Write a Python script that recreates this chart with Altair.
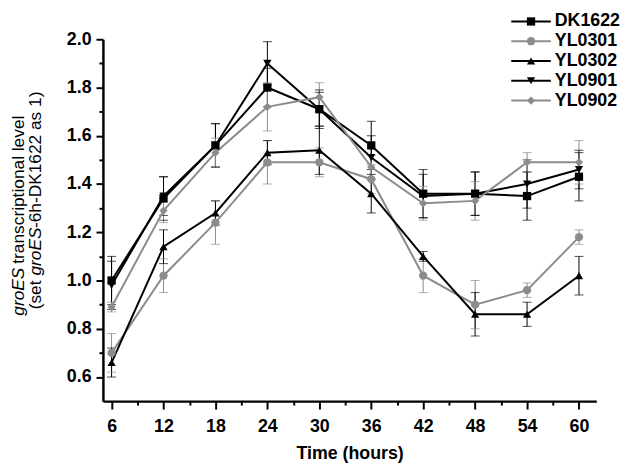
import altair as alt
import pandas as pd

hours = [6, 12, 18, 24, 30, 36, 42, 48, 54, 60]
minor_hours = [9, 15, 21, 27, 33, 39, 45, 51, 57]
y_major = [0.6, 0.8, 1.0, 1.2, 1.4, 1.6, 1.8, 2.0]
y_minor = [0.7, 0.9, 1.1, 1.3, 1.5, 1.7, 1.9]

series = ["DK1622", "YL0301", "YL0302", "YL0901", "YL0902"]
colors = ["#000000", "#8c8c8c", "#000000", "#000000", "#8c8c8c"]
shapes = ["square", "circle", "triangle-up", "triangle-down", "diamond"]

dk1622 = [1.00, 1.34, 1.56, 1.80, 1.71, 1.56, 1.36, 1.36, 1.35, 1.43]
dk1622_err = [0.10, 0.09, 0.09, 0.08, 0.07, 0.10, 0.10, 0.09, 0.10, 0.10]
yl0301 = [0.70, 1.02, 1.24, 1.49, 1.49, 1.42, 1.02, 0.90, 0.96, 1.18]
yl0301_err = [0.08, 0.07, 0.09, 0.09, 0.06, 0.06, 0.07, 0.10, 0.03, 0.03]
yl0302 = [0.66, 1.14, 1.28, 1.53, 1.54, 1.36, 1.10, 0.86, 0.86, 1.02]
yl0302_err = [0.06, 0.07, 0.05, 0.05, 0.10, 0.08, 0.02, 0.09, 0.05, 0.08]
yl0901 = [0.98, 1.35, 1.56, 1.90, 1.71, 1.51, 1.35, 1.36, 1.40, 1.46]
yl0901_err = [0.10, 0.08, 0.09, 0.09, 0.08, 0.09, 0.09, 0.09, 0.10, 0.08]
yl0902 = [0.89, 1.29, 1.53, 1.72, 1.76, 1.47, 1.32, 1.33, 1.49, 1.49]
yl0902_err = [0.02, 0.05, 0.06, 0.10, 0.06, 0.05, 0.07, 0.08, 0.04, 0.09]

values = [dk1622, yl0301, yl0302, yl0901, yl0902]
errors = [dk1622_err, yl0301_err, yl0302_err, yl0901_err, yl0902_err]

rows = []
for s, vals, errs in zip(series, values, errors):
    for h, v, e in zip(hours, vals, errs):
        rows.append({"series": s, "hour": h, "value": v, "lo": v - e, "hi": v + e})
df = pd.DataFrame(rows)
legend_df = pd.DataFrame({"series": series})

FONT = "Liberation Sans"
xscale = alt.Scale(domain=[5, 62], nice=False, zero=False)
yscale = alt.Scale(domain=[0.5, 2.0], nice=False, zero=False)
color = alt.Color("series:N", scale=alt.Scale(domain=series, range=colors), legend=None)
shape = alt.Shape("series:N", scale=alt.Scale(domain=series, range=shapes), legend=None)

base = alt.Chart(df)

x_major_axis = alt.Axis(values=hours, orient="bottom", title="Time (hours)", tickSize=8,
                        labelPadding=9, titlePadding=9, grid=False)
x_minor_axis = alt.Axis(values=minor_hours, orient="bottom", title=None, tickSize=4,
                        labels=False, domain=False, grid=False)
y_major_axis = alt.Axis(values=y_major, orient="left", title=None, tickSize=7,
                        labelPadding=5, format=".1f", grid=False)
y_minor_axis = alt.Axis(values=y_minor, orient="left", title=None, tickSize=4,
                        labels=False, domain=False, grid=False)

err = base.mark_rule(strokeWidth=1).encode(
    x=alt.X("hour:Q", scale=xscale, axis=x_minor_axis),
    y=alt.Y("lo:Q", scale=yscale, axis=y_minor_axis),
    y2="hi:Q",
    color=color,
)
caps_lo = base.mark_tick(orient="horizontal", size=9, thickness=1).encode(
    x=alt.X("hour:Q", scale=xscale, axis=None),
    y=alt.Y("lo:Q", scale=yscale, axis=None),
    color=color,
)
caps_hi = base.mark_tick(orient="horizontal", size=9, thickness=1).encode(
    x=alt.X("hour:Q", scale=xscale, axis=None),
    y=alt.Y("hi:Q", scale=yscale, axis=None),
    color=color,
)
line = base.mark_line(strokeWidth=2).encode(
    x=alt.X("hour:Q", scale=xscale, axis=x_major_axis),
    y=alt.Y("value:Q", scale=yscale, axis=y_major_axis),
    color=color,
)
points = base.mark_point(filled=True, size=70, opacity=1).encode(
    x=alt.X("hour:Q", scale=xscale, axis=None),
    y=alt.Y("value:Q", scale=yscale, axis=None),
    color=color,
    shape=shape,
)
data_layer = alt.layer(err, caps_lo, caps_hi, line, points).resolve_axis(x="independent", y="independent")

leg_y = alt.Y("series:N", scale=alt.Scale(type="point", domain=series, range=[-18, 62], padding=0),
              axis=None)
leg = alt.Chart(legend_df)
leg_line = leg.mark_rule(strokeWidth=2).encode(x=alt.value(413), x2=alt.value(453), y=leg_y, color=color)
leg_pts = leg.mark_point(filled=True, size=70, opacity=1).encode(x=alt.value(433), y=leg_y, color=color, shape=shape)
leg_txt = leg.mark_text(align="left", baseline="middle", font=FONT, fontSize=18, fontWeight="bold",
                        color="#000000").encode(x=alt.value(457), y=leg_y, text="series:N")
legend_layer = alt.layer(leg_line, leg_pts, leg_txt)

# y-axis title pieces (mixed italic), rotated
title_df = pd.DataFrame({"k": [0]})
tb = alt.Chart(title_df)
def ttext(txt, x, y, align, italic=False):
    return tb.mark_text(text=txt, angle=270, align=align, baseline="middle", font=FONT,
                        fontSize=17.5, fontStyle="italic" if italic else "normal",
                        color="#000000").encode(x=alt.value(x), y=alt.value(y))

title_layer = alt.layer(
    ttext("groES", -85, 231, "right", True),
    ttext("transcriptional level", -85, 227, "left"),
    ttext("(set", -68, 244, "right"),
    ttext("groES", -68, 239, "left", True),
    ttext("-6h-DK1622 as 1)", -68, 191, "left"),
)

chart = alt.layer(data_layer, legend_layer, title_layer).resolve_scale(
    y="independent"
).properties(
    width=499, height=366,
    autosize=alt.AutoSizeParams(type="none"),
    padding={"left": 96, "top": 29, "right": 26, "bottom": 64},
).configure_view(stroke=None).configure_axis(
    domainColor="#000000", domainWidth=2.5, tickColor="#000000", tickWidth=2,
    labelFont=FONT, labelFontSize=18, labelFontWeight="bold", labelColor="#000000",
    titleFont=FONT, titleFontSize=18, titleFontWeight="bold", titleColor="#000000",
)

chart.save("out.html", embed_options={"renderer": "svg", "actions": False})
